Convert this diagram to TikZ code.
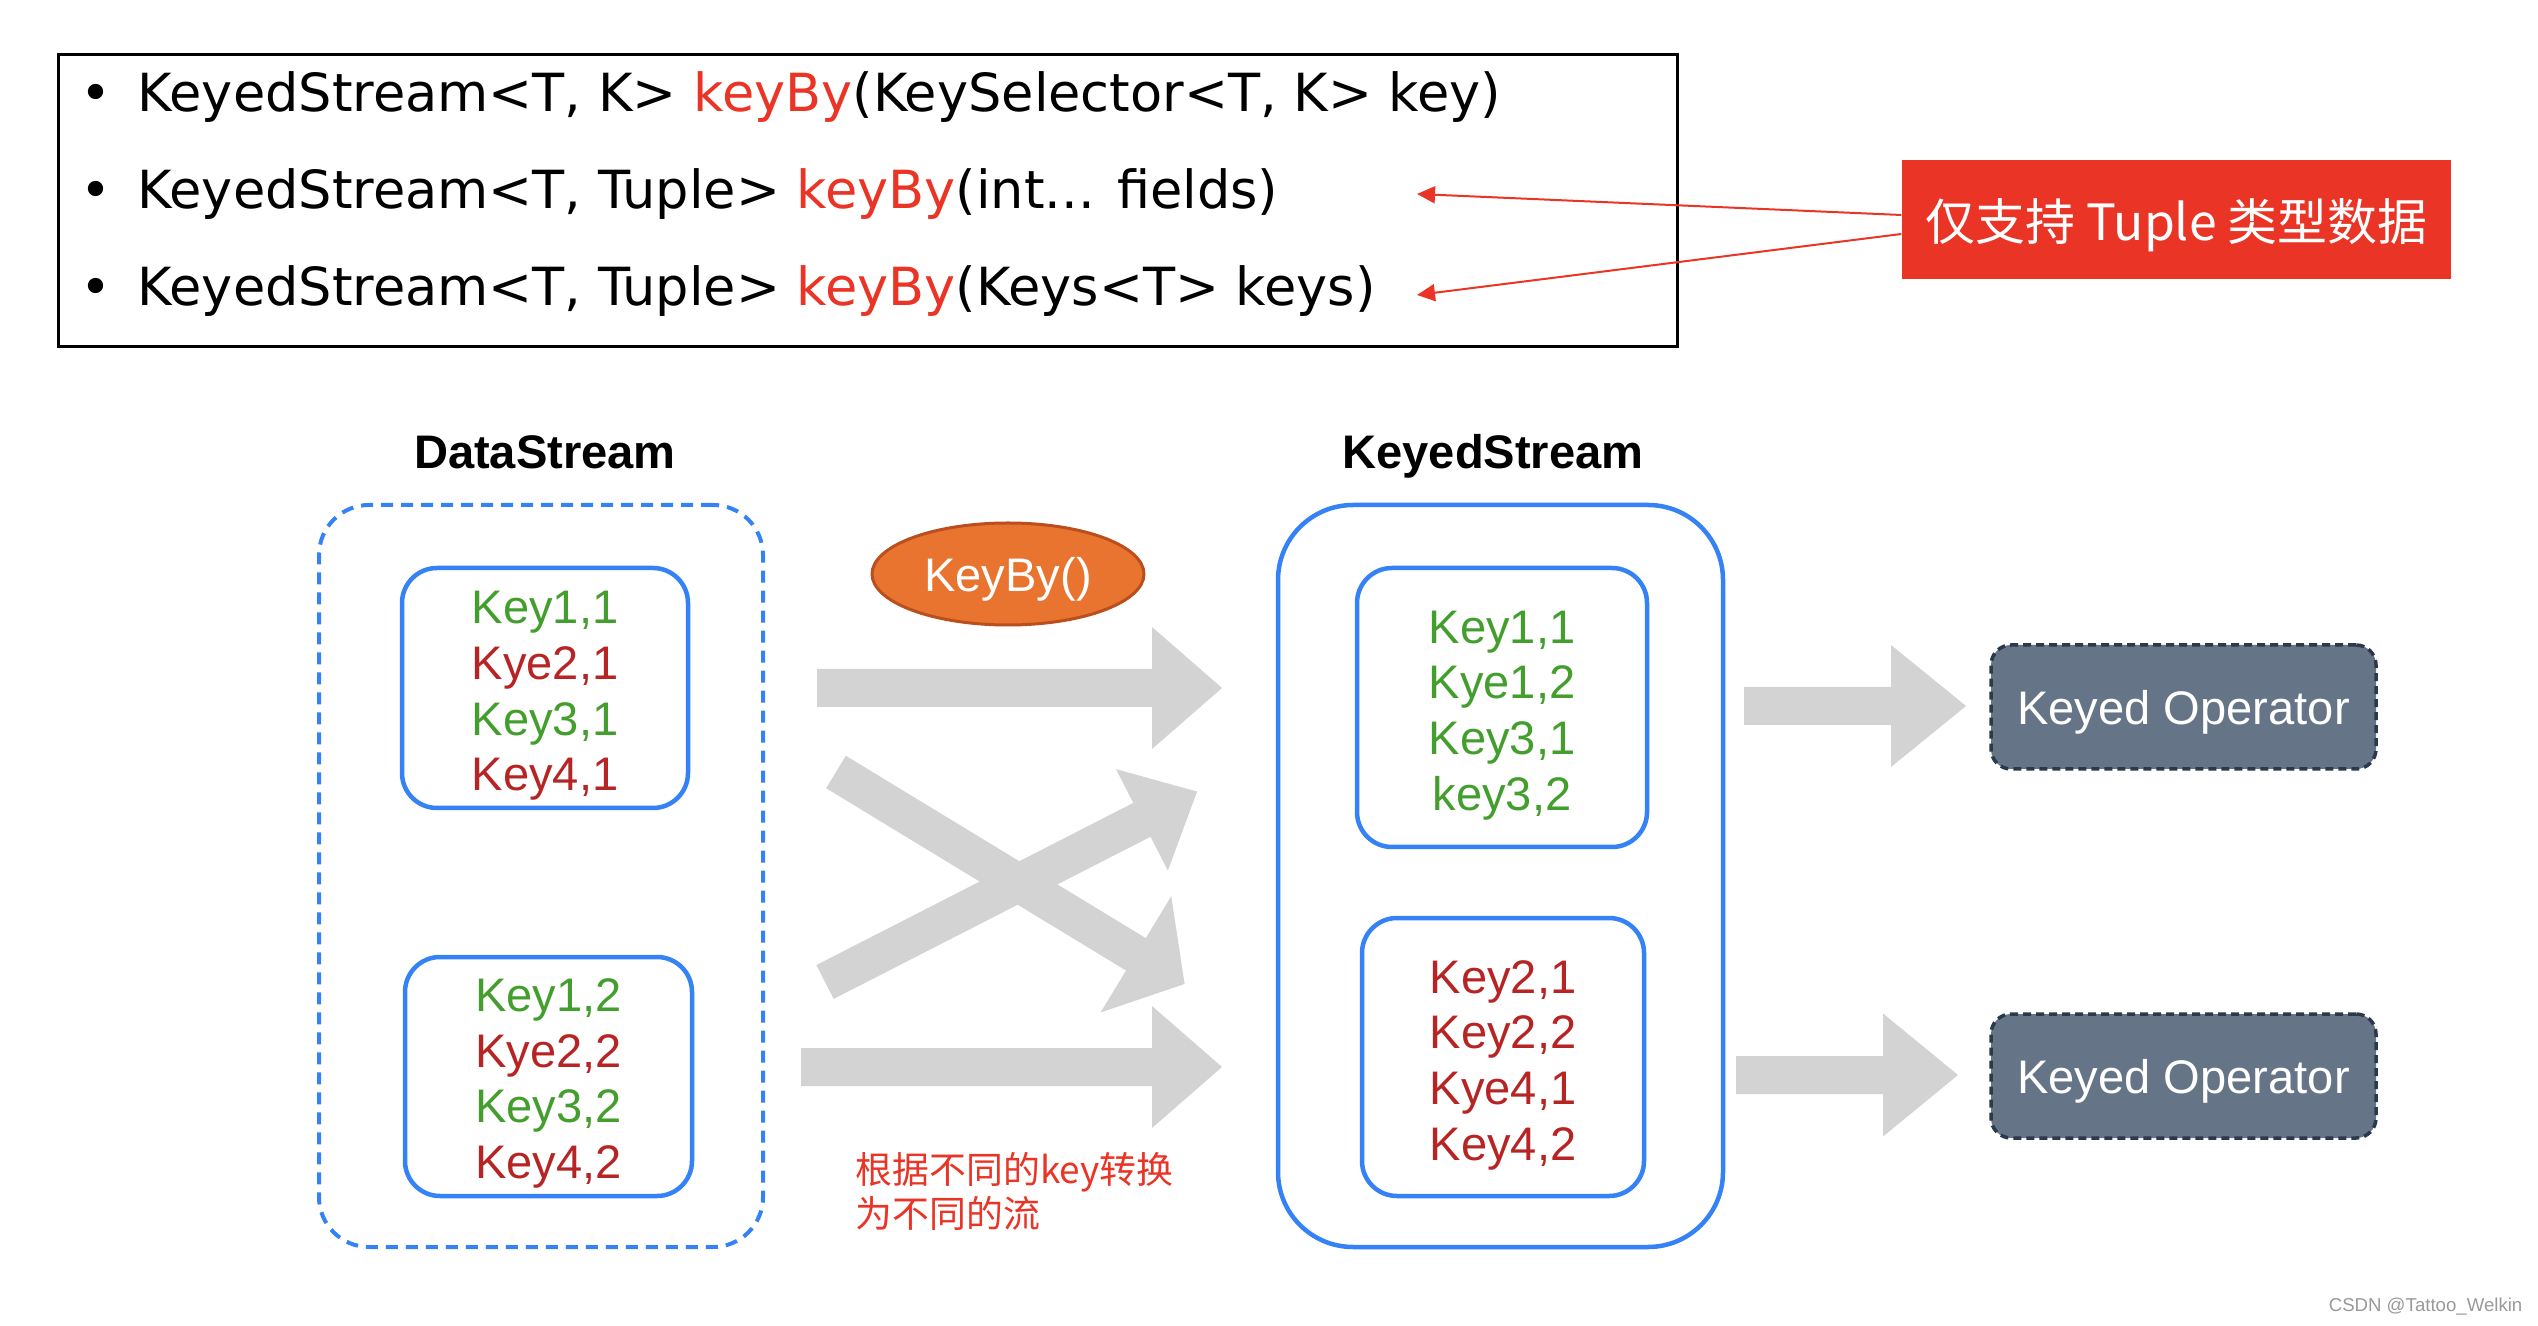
\documentclass[tikz,border=0pt]{standalone}
\usepackage{fontspec}
\setmainfont{Liberation Sans}
\newfontfamily\apifont{DejaVu Sans}
\newfontfamily\cjk{Noto Sans CJK SC}
\usetikzlibrary{shapes.geometric,arrows.meta}
\definecolor{keygreen}{RGB}{67,158,45}
\definecolor{keyred}{RGB}{183,36,36}
\definecolor{notered}{RGB}{233,52,38}
\definecolor{boxblue}{RGB}{52,130,246}
\definecolor{flowgray}{RGB}{211,211,211}
\definecolor{opfill}{RGB}{101,116,135}
\definecolor{opline}{RGB}{44,57,74}
\definecolor{keybyfill}{RGB}{232,116,47}
\definecolor{keybyline}{RGB}{186,78,28}
\begin{document}
\begin{tikzpicture}[
	keyfont/.style={font=\fontsize{13.4}{15.85}\selectfont},
	apiline/.style={anchor=base west, inner sep=0, font=\apifont\fontsize{14.95}{18}\selectfont},
	keybox/.style={draw=boxblue, line width=0.045cm, rounded corners=0.35cm, inner sep=0},
	keytext/.style={keyfont, align=center, inner sep=0},
	operator/.style={draw=opline, fill=opfill, line width=0.035cm, dash pattern=on 0.08cm off 0.05cm, rounded corners=0.2cm, text=white, keyfont, text depth=0pt, minimum width=3.85cm, minimum height=1.24cm},
	redarrow/.style={draw=notered, line width=0.02cm, -{Triangle[length=0.18cm,width=0.17cm]}}
]
	\useasboundingbox (0,0) rectangle (25.38,-13.26);

	\node[draw, line width=0.03cm, minimum width=16.19cm, minimum height=2.92cm, inner sep=0] (apibox) at (8.675,-2.01) {};
	\foreach \y in {-1.12,-2.09,-3.06}
		\node[apiline] at (0.80,\y) {\textbullet};
	\node[apiline] (keyselector) at (1.37,-1.12) {KeyedStream<T, K> \textcolor{notered}{keyBy}(KeySelector<T, K> key)};
	\node[apiline] (fields) at (1.37,-2.09) {KeyedStream<T, Tuple> \textcolor{notered}{keyBy}(int... fields)};
	\node[apiline] (keys) at (1.37,-3.06) {KeyedStream<T, Tuple> \textcolor{notered}{keyBy}(Keys<T> keys)};

	\node[fill=notered, minimum width=5.49cm, minimum height=1.19cm, inner sep=0, text=white, text depth=0pt, font=\cjk\fontsize{14.2}{16}\selectfont] (tuplenote) at (21.765,-2.195) {仅支持 Tuple 类型数据};
	\coordinate (fieldsend) at (14.17,-1.94);
	\coordinate (keysend) at (14.17,-2.95);
	\draw[redarrow] ([yshift=0.045cm]tuplenote.west) -- (fieldsend);
	\draw[redarrow] ([yshift=-0.145cm]tuplenote.west) -- (keysend);

	\node[anchor=base, font=\bfseries\fontsize{13.4}{16}\selectfont] (dslabel) at (5.45,-4.69) {DataStream};
	\node[anchor=base, font=\bfseries\fontsize{13.4}{16}\selectfont] (kslabel) at (14.93,-4.69) {KeyedStream};

	\node[draw=boxblue, line width=0.04cm, dash pattern=on 0.12cm off 0.08cm, rounded corners=0.5cm, minimum width=4.44cm, minimum height=7.42cm] (datastream) at (5.41,-8.76) {};
	\node[keybox, minimum width=2.86cm, minimum height=2.40cm] (dsfirst) at (5.45,-6.88) {};
	\node[keytext] (dsfirsttext) at ([yshift=-0.08cm]dsfirst.center)
		{\textcolor{keygreen}{Key1,1}\\\textcolor{keyred}{Kye2,1}\\\textcolor{keygreen}{Key3,1}\\\textcolor{keyred}{Key4,1}};
	\node[keybox, minimum width=2.87cm, minimum height=2.39cm] (dssecond) at (5.485,-10.765) {};
	\node[keytext] (dssecondtext) at ([yshift=-0.07cm]dssecond.center)
		{\textcolor{keygreen}{Key1,2}\\\textcolor{keyred}{Kye2,2}\\\textcolor{keygreen}{Key3,2}\\\textcolor{keyred}{Key4,2}};

	\node[draw=boxblue, line width=0.045cm, rounded corners=0.75cm, minimum width=4.45cm, minimum height=7.42cm] (keyedstream) at (15.005,-8.76) {};
	\node[keybox, minimum width=2.90cm, minimum height=2.79cm] (ksfirst) at (15.02,-7.075) {};
	\node[keytext] (ksfirsttext) at ([yshift=-0.08cm]ksfirst.center)
		{\textcolor{keygreen}{Key1,1}\\\textcolor{keygreen}{Kye1,2}\\\textcolor{keygreen}{Key3,1}\\\textcolor{keygreen}{key3,2}};
	\node[keybox, minimum width=2.82cm, minimum height=2.78cm] (kssecond) at (15.03,-10.57) {};
	\node[keytext] (kssecondtext) at ([yshift=-0.08cm]kssecond.center)
		{\textcolor{keyred}{Key2,1}\\\textcolor{keyred}{Key2,2}\\\textcolor{keyred}{Kye4,1}\\\textcolor{keyred}{Key4,2}};

	\node[ellipse, draw=keybyline, fill=keybyfill, line width=0.03cm, minimum width=2.72cm, minimum height=1.02cm, inner sep=0, text=white, text depth=0pt, keyfont] (keyby) at (10.08,-5.74) {KeyBy()};

	\foreach \x/\y/\a/\l/\h/\w in {8.17/-6.88/0/4.05/0.70/0.61, 8.01/-10.67/0/4.21/0.70/0.61, 8.36/-7.72/-31.3/4.08/0.57/0.68, 8.25/-9.82/27.1/4.18/0.62/0.57, 17.44/-7.06/0/2.22/0.75/0.61, 17.36/-10.75/0/2.22/0.75/0.615}
		\fill[flowgray, shift={(\x,\y)}, rotate=\a] (0,-0.19) -- (\l-\h,-0.19) -- (\l-\h,-\w) -- (\l,0) -- (\l-\h,\w) -- (\l-\h,0.19) -- (0,0.19) -- cycle;

	\node[operator] (opfirst) at (21.835,-7.07) {Keyed Operator};
	\node[operator] (opsecond) at (21.835,-10.76) {Keyed Operator};

	\node[anchor=west, inner sep=0, align=left, text=notered, font=\cjk\fontsize{10.5}{11.1}\selectfont] (splitnote) at (8.55,-11.915) {根据不同的key转换\\为不同的流};

	\node[anchor=east, inner sep=0, text=gray!80, font=\fontsize{5.3}{6}\selectfont] (credit) at (25.23,-13.07) {CSDN @Tattoo\_Welkin};
\end{tikzpicture}
\end{document}
